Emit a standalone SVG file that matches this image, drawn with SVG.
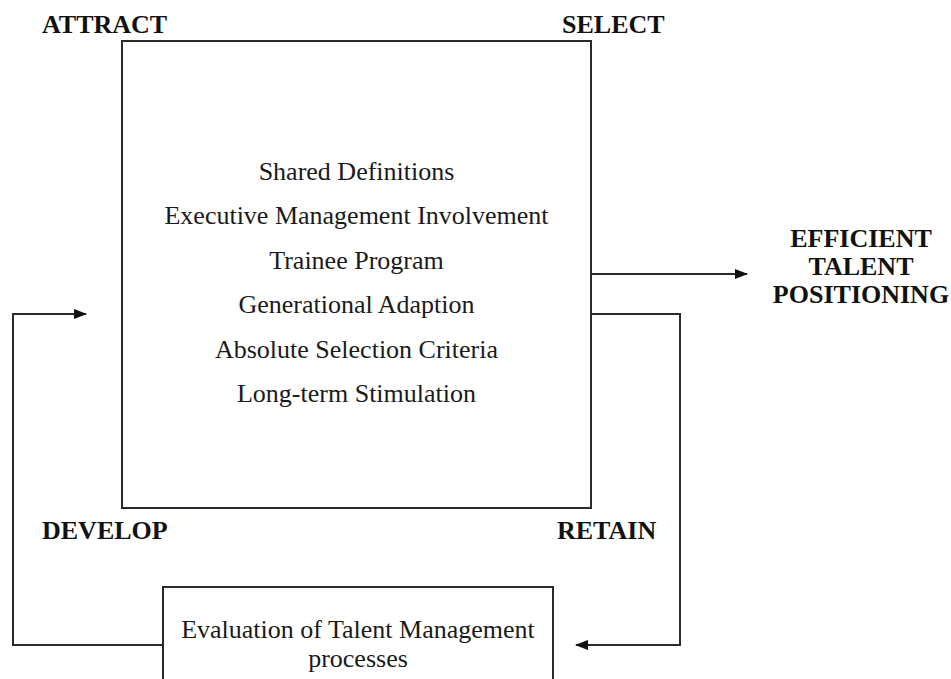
<svg xmlns="http://www.w3.org/2000/svg" width="951" height="679" viewBox="0 0 951 679">
  <style>
    .box { fill: #ffffff; stroke: #2b2b2b; stroke-width: 2; }
    .link { fill: none; stroke: #2b2b2b; stroke-width: 2; }
    .label { font-family: "Liberation Serif", "Times New Roman", serif; font-size: 26px; font-weight: bold; fill: #111111; }
    .item { font-family: "Liberation Serif", "Times New Roman", serif; font-size: 26px; fill: #1a1a1a; text-anchor: middle; }
  </style>
  <defs>
    <marker id="arrow" viewBox="0 0 13 10" refX="12" refY="5" markerWidth="13" markerHeight="10" markerUnits="userSpaceOnUse" orient="auto">
      <path d="M0,0 L13,5 L0,10 Z" fill="#111111"/>
    </marker>
  </defs>
  <rect width="951" height="679" fill="#ffffff"/>

  <!-- stage labels around the central box -->
  <g id="stage-labels">
    <text class="label" x="42" y="33">ATTRACT</text>
    <text class="label" x="562" y="33">SELECT</text>
    <text class="label" x="42" y="539">DEVELOP</text>
    <text class="label" x="557" y="539">RETAIN</text>
  </g>

  <!-- connectors -->
  <g id="connectors">
    <line class="link" x1="591" y1="274" x2="747" y2="274" marker-end="url(#arrow)"/>
    <polyline class="link" points="591,314 680,314 680,645 576,645" marker-end="url(#arrow)"/>
    <polyline class="link" points="163,645 13,645 13,314 86,314" marker-end="url(#arrow)"/>
  </g>

  <!-- central practices box -->
  <g id="practices">
    <rect class="box" x="122" y="41" width="469" height="467"/>
    <text class="item" x="356.5" y="180">Shared Definitions</text>
    <text class="item" x="356.5" y="224.4">Executive Management Involvement</text>
    <text class="item" x="356.5" y="268.8">Trainee Program</text>
    <text class="item" x="356.5" y="313.2">Generational Adaption</text>
    <text class="item" x="356.5" y="357.6">Absolute Selection Criteria</text>
    <text class="item" x="356.5" y="402">Long-term Stimulation</text>
  </g>

  <!-- outcome -->
  <g id="outcome">
    <text class="label" x="861" y="247" text-anchor="middle">EFFICIENT</text>
    <text class="label" x="861" y="275" text-anchor="middle">TALENT</text>
    <text class="label" x="861" y="303" text-anchor="middle">POSITIONING</text>
  </g>

  <!-- evaluation box -->
  <g id="evaluation">
    <rect class="box" x="163" y="587" width="390" height="110"/>
    <text class="item" x="358" y="638">Evaluation of Talent Management</text>
    <text class="item" x="358" y="667">processes</text>
  </g>
</svg>
